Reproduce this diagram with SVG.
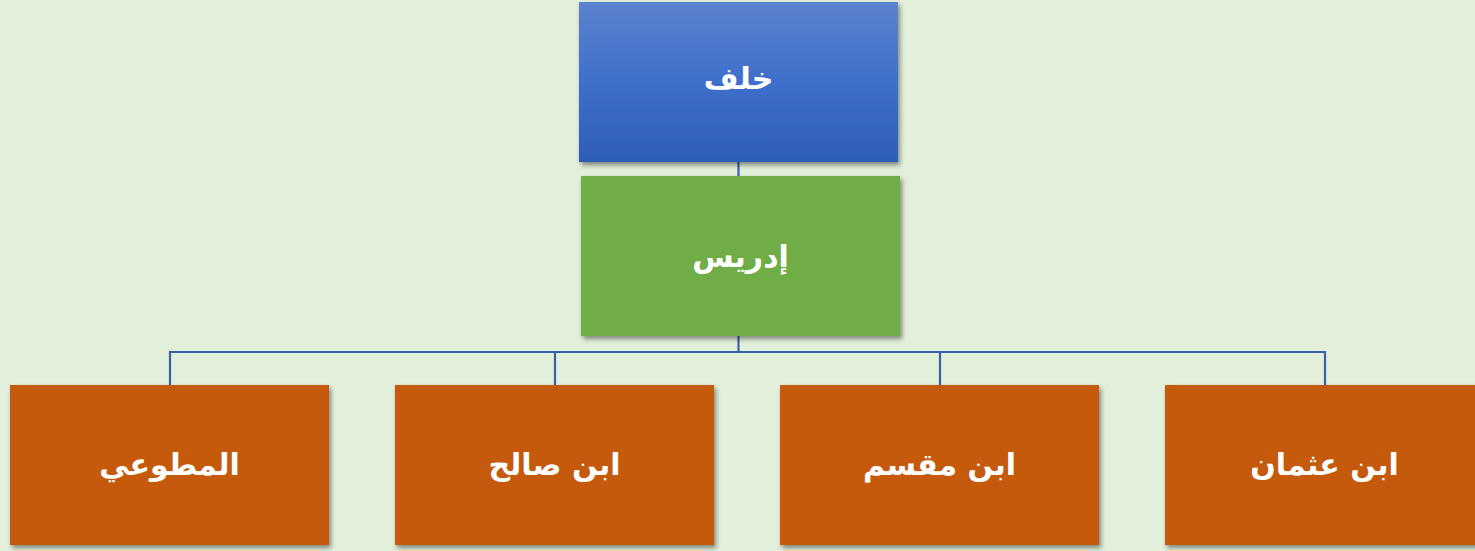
<svg xmlns="http://www.w3.org/2000/svg" width="1475" height="551" viewBox="0 0 1475 551">
<defs>
<linearGradient id="blueGrad" x1="0" y1="0" x2="0" y2="1">
<stop offset="0" stop-color="#5D83CE"/>
<stop offset="0.5" stop-color="#3F6FCB"/>
<stop offset="1" stop-color="#2E5DB8"/>
</linearGradient>
<filter id="shadow" x="-10%" y="-10%" width="125%" height="130%">
<feGaussianBlur in="SourceAlpha" stdDeviation="2.5"/>
<feOffset dx="2" dy="3" result="b"/>
<feComponentTransfer><feFuncA type="linear" slope="0.45"/></feComponentTransfer>
<feMerge><feMergeNode/><feMergeNode in="SourceGraphic"/></feMerge>
</filter>
</defs>
<style>
.lbl{font-family:"DejaVu Sans","Liberation Sans",sans-serif;font-weight:bold;font-size:30px;fill:#FFFFFF;text-anchor:middle;}
.conn{stroke:#3A5FA8;stroke-width:2.2;fill:none;}
.orange{fill:#C55A11;}
</style>
<rect x="0" y="0" width="1475" height="551" fill="#E2EFDA"/>
<g id="connectors">
<line class="conn" x1="738.5" y1="162" x2="738.5" y2="176"/>
<line class="conn" x1="738.5" y1="336" x2="738.5" y2="352"/>
<polyline class="conn" points="170,385 170,352 1325,352 1325,385"/>
<line class="conn" x1="555" y1="352" x2="555" y2="385"/>
<line class="conn" x1="940" y1="352" x2="940" y2="385"/>
</g>
<g id="node-khalaf">
<rect x="579" y="2" width="319" height="160" fill="url(#blueGrad)" filter="url(#shadow)"/>
<text class="lbl" x="738.5" y="89">خلف</text>
</g>
<g id="node-idris">
<rect x="581" y="176" width="319" height="160" fill="#70AD47" filter="url(#shadow)"/>
<text class="lbl" x="740.5" y="267">إدريس</text>
</g>
<g id="node-mutawwii">
<rect class="orange" x="10" y="385" width="319" height="160" filter="url(#shadow)"/>
<text class="lbl" x="169.5" y="475">المطوعي</text>
</g>
<g id="node-ibn-salih">
<rect class="orange" x="395" y="385" width="319" height="160" filter="url(#shadow)"/>
<text class="lbl" x="554.5" y="475">ابن صالح</text>
</g>
<g id="node-ibn-muqsim">
<rect class="orange" x="780" y="385" width="319" height="160" filter="url(#shadow)"/>
<text class="lbl" x="939.5" y="475">ابن مقسم</text>
</g>
<g id="node-ibn-uthman">
<rect class="orange" x="1165" y="385" width="319" height="160" filter="url(#shadow)"/>
<text class="lbl" x="1324.5" y="475">ابن عثمان</text>
</g>
</svg>
